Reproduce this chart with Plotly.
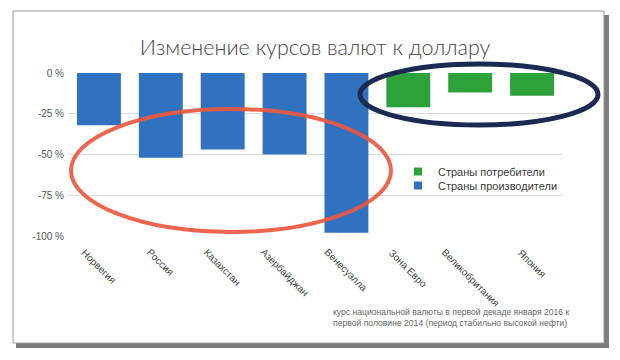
import plotly.graph_objects as go

categories = ["Норвегия", "Россия", "Казахстан", "Азербайджан", "Венесуэлла",
              "Зона Евро", "Великобритания", "Япония"]
producers = ["Норвегия", "Россия", "Казахстан", "Азербайджан", "Венесуэлла"]
producer_values = [-32, -52, -47, -50, -98]
consumers = ["Зона Евро", "Великобритания", "Япония"]
consumer_values = [-21, -12, -14]
y_ticks = [0, -25, -50, -75, -100]
y_tick_labels = ["0 %", "-25 %", "-50 %", "-75 %", "-100 %"]

OFF = 8            # page body margin of the html page
W, H = 612, 344    # figure size
# plot area, in page pixels
L, R, T, B = 68, 563, 73, 236


def px(x):
    return (x - L) / (R - L)


def py(y):
    return (B - y) / (B - T)


GREEN = "#2ea23a"
BLUE = "#3172c0"

fig = go.Figure()
fig.add_trace(go.Bar(
    x=consumers, y=consumer_values, showlegend=False,
    marker=dict(color=GREEN, line=dict(width=0)), width=0.71,
))
fig.add_trace(go.Bar(
    x=producers, y=producer_values, showlegend=False,
    marker=dict(color=BLUE, line=dict(width=0)), width=0.71,
))
# legend entries (small square swatches)
fig.add_trace(go.Scatter(
    x=[None], y=[None], mode="markers", name="Страны потребители",
    marker=dict(symbol="square", size=8, color=GREEN), legend="legend",
))
fig.add_trace(go.Scatter(
    x=[None], y=[None], mode="markers", name="Страны производители",
    marker=dict(symbol="square", size=8, color=BLUE), legend="legend2",
))

shapes = [
    # paper shadow
    dict(type="rect", xref="paper", yref="paper", layer="below",
         x0=px(16), x1=px(609), y0=py(348), y1=py(15),
         fillcolor="#7c7c7c", line=dict(width=0)),
    # paper sheet
    dict(type="rect", xref="paper", yref="paper", layer="below",
         x0=px(13), x1=px(604), y0=py(343), y1=py(11),
         fillcolor="#ffffff", line=dict(color="#9a9a9a", width=1)),
    # red ellipse
    dict(type="circle", xref="paper", yref="paper", layer="above",
         x0=px(71), x1=px(391), y0=py(232), y1=py(109),
         line=dict(color="rgba(236,88,62,0.92)", width=4)),
    # navy ellipse
    dict(type="circle", xref="paper", yref="paper", layer="above",
         x0=px(360), x1=px(598), y0=py(125), y1=py(64),
         line=dict(color="#1b2a50", width=5)),
]

annotations = [dict(
    text=c, xref="x", yref="paper", x=c, y=py(244),
    xanchor="center", yanchor="top", textangle=45, showarrow=False,
    font=dict(size=10, color="#444444")) for c in categories]
annotations.append(dict(
    text="курс национальной валюты в первой декаде января 2016 к<br>"
         "первой половине 2014 (период стабильно высокой нефти)",
    xref="paper", yref="paper", x=px(331), y=py(317), xanchor="left",
    yanchor="middle", align="left", showarrow=False,
    font=dict(size=8.6, color="#666666")))

legend_common = dict(xanchor="left", yanchor="middle",
                     bgcolor="rgba(0,0,0,0)",
                     font=dict(size=11, color="#3a3a3a"))

fig.update_layout(
    width=W, height=H,
    margin=dict(l=L - OFF, r=W - (R - OFF), t=T - OFF, b=H - (B - OFF)),
    paper_bgcolor="#ffffff",
    plot_bgcolor="rgba(0,0,0,0)",
    barmode="overlay",
    font=dict(family="Liberation Sans, Arial, sans-serif", color="#555555"),
    title=dict(text="Изменение курсов валют к доллару",
               x=(315 - OFF) / W, xanchor="center",
               y=1 - (47.5 - OFF) / H, yanchor="middle",
               font=dict(family="Lato, Open Sans, sans-serif", size=21.5,
                         color="#444444", weight=300)),
    showlegend=True,
    legend=dict(x=px(398), y=py(171.5), **legend_common),
    legend2=dict(x=px(398), y=py(185.5), **legend_common),
    xaxis=dict(categoryorder="array", categoryarray=categories,
               showticklabels=False,
               showgrid=False, zeroline=False, showline=False, ticks=""),
    yaxis=dict(range=[-100, 0], tickvals=y_ticks, ticktext=y_tick_labels,
               tickfont=dict(size=10, color="#555555"),
               showgrid=True, gridcolor="#dcdcdc", gridwidth=1,
               zeroline=False, showline=False, ticks="", ticklabelstandoff=3),
    shapes=shapes,
    annotations=annotations,
)

fig.write_html("out.html")
